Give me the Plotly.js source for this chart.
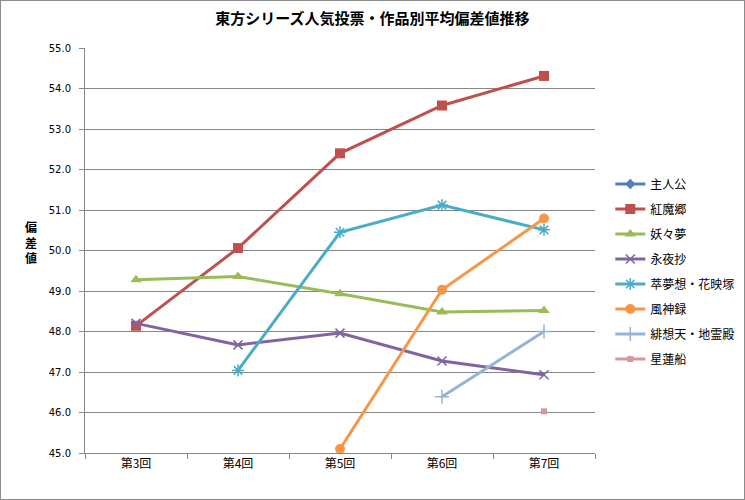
<!DOCTYPE html>
<html><head><meta charset="utf-8">
<script src="https://cdn.plot.ly/plotly-3.0.1.min.js"></script>
<style>html,body{margin:0;padding:0;background:#fff}#c{width:745px;height:500px;box-sizing:border-box;border:1px solid #8c8c8c}</style>
</head><body><div id="c"></div>
<script>
const categories = ['第3回','第4回','第5回','第6回','第7回'];
const seriesNames = ['主人公','紅魔郷','妖々夢','永夜抄','萃夢想・花映塚','風神録','緋想天・地霊殿','星蓮船'];
const shujinko = [null,null,null,null,null];
const koumakyo = [48.14,50.06,52.40,53.58,54.31];
const youyoumu = [49.28,49.36,48.93,48.48,48.52];
const eiyasho = [48.20,47.67,47.96,47.27,46.93];
const suimusou = [null,47.04,50.45,51.12,50.51];
const fuujinroku = [null,null,45.10,49.03,50.79];
const hisouten = [null,null,null,46.39,48.00];
const seirensen = [null,null,null,null,46.03];
const seriesValues = [shujinko,koumakyo,youyoumu,eiyasho,suimusou,fuujinroku,hisouten,seirensen];

const colors = ['#4F81BD','#C0504D','#9BBB59','#8064A2','#4BACC6','#F79646','#95B3D7','#D39A99'];
const symbols = ['diamond','square','triangle-up','x-thin-open','asterisk-open','circle','cross-thin-open','square'];
const sizes = [8,10,10,9,10,10,10,6];
const F = '"Noto Sans CJK JP", sans-serif';

const traces = seriesNames.map((n,i)=>({
  x: categories, y: seriesValues[i], name: n, type:'scatter', mode:'lines+markers',
  legendgroup: 'g'+i,
  line:{color:colors[i], width:3},
  marker:{symbol:symbols[i], size:sizes[i], color:colors[i], line:{color:colors[i], width: (symbols[i].indexOf('open')>=0?1.5:0)}},
  connectgaps:false
}));

const layout = {
  width:743, height:498,
  margin:{l:84, r:149, t:47, b:46, autoexpand:false},
  paper_bgcolor:'#fff', plot_bgcolor:'#fff',
  font:{family:F, size:11, color:'#000'},
  title:{text:'<b>東方シリーズ人気投票・作品別平均偏差値推移</b>', font:{family:F, size:15, color:'#000'}, x:0.5, xanchor:'center', y:0.965, yref:'container', yanchor:'middle'},
  xaxis:{type:'category', range:[-0.5,4.5], showline:true, linecolor:'#868686', linewidth:1, ticks:'outside', ticklen:5, tickcolor:'#868686', tickson:'boundaries', showgrid:false, tickfont:{family:F,size:12}, zeroline:false, fixedrange:true},
  yaxis:{range:[45,55], dtick:1, tick0:45, tickformat:'.1f', showline:true, linecolor:'#868686', linewidth:1, ticks:'outside', ticklen:5, tickcolor:'#868686', showgrid:true, gridcolor:'#868686', gridwidth:1, tickfont:{family:'Verdana, "DejaVu Sans", sans-serif',size:10}, zeroline:false, ticklabelstandoff:6},
  showlegend:true,
  legend:{x:1.03, xanchor:'left', y:0.70, yanchor:'top', traceorder:'grouped', tracegroupgap:6, font:{family:F,size:12}, bgcolor:'rgba(0,0,0,0)', itemwidth:30},
  annotations:[{text:'<b>偏<br>差<br>値</b>', xref:'paper', yref:'paper', x:-0.105, y:0.52, xanchor:'center', yanchor:'middle', showarrow:false, font:{family:F,size:12,color:'#000'}, align:'center'}]
};
Plotly.newPlot('c', traces, layout, {displayModeBar:false, staticPlot:true});
</script></body></html>
